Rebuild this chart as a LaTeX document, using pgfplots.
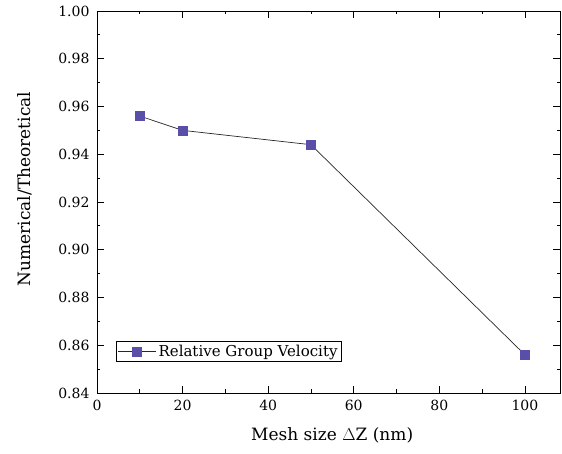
\documentclass[border=0pt]{standalone}
\usepackage{fontspec}
\setmainfont{DejaVu Serif}
\usepackage{pgfplots}
\pgfplotsset{compat=1.18}
\definecolor{markc}{HTML}{5A4FA8}
\begin{document}
\begin{tikzpicture}
\begin{axis}[
  name=ax,
  scale only axis,
  width=463pt, height=382pt,
  xmin=0, xmax=108.2, ymin=0.84, ymax=1.00,
  xtick={0,20,40,60,80,100},
  ytick={0.84,0.86,...,1.001},
  minor x tick num=1, minor y tick num=1,
  tick align=inside,
  major tick length=7pt, minor tick length=3.5pt,
  tick style={black, line width=0.8pt},
  axis line style={line width=0.9pt},
  /pgf/number format/assume math mode=true,
  ticklabel style={font=\fontsize{14}{16}\selectfont},
  yticklabel style={xshift=-4pt, /pgf/number format/.cd, fixed, fixed zerofill, precision=2},
  xticklabel style={yshift=-4pt},
  xlabel={Mesh size $\Delta$Z (nm)},
  ylabel={Numerical/Theoretical},
  label style={font=\fontsize{17}{20}\selectfont},
  xlabel style={at={(axis description cs:0.508,-0.110)}, anchor=center},
  ylabel style={at={(axis description cs:-0.1555,0.534)}, anchor=center},
  legend style={at={(0.041,0.081)}, anchor=south west, draw=black, line width=0.8pt,
    font=\fontsize{15}{17}\selectfont, inner sep=1.5pt},
  legend image code/.code={%
    \draw[mark repeat=2, mark phase=2] plot coordinates {(0pt,0pt) (19pt,0pt) (38pt,0pt)};},
  legend cell align=left,
]
\addplot[black!85, line width=0.7pt, mark=square*, mark size=4.5pt,
  mark options={fill=markc, draw=markc}]
  coordinates {(10,0.956) (20,0.950) (50,0.944) (100,0.856)};
\addlegendentry{Relative Group Velocity}
\end{axis}
\path (ax.south west) ++(-97pt,-61pt) coordinate (bbA);
\path (ax.north east) ++(2pt,11pt) coordinate (bbB);
\end{tikzpicture}
\end{document}
